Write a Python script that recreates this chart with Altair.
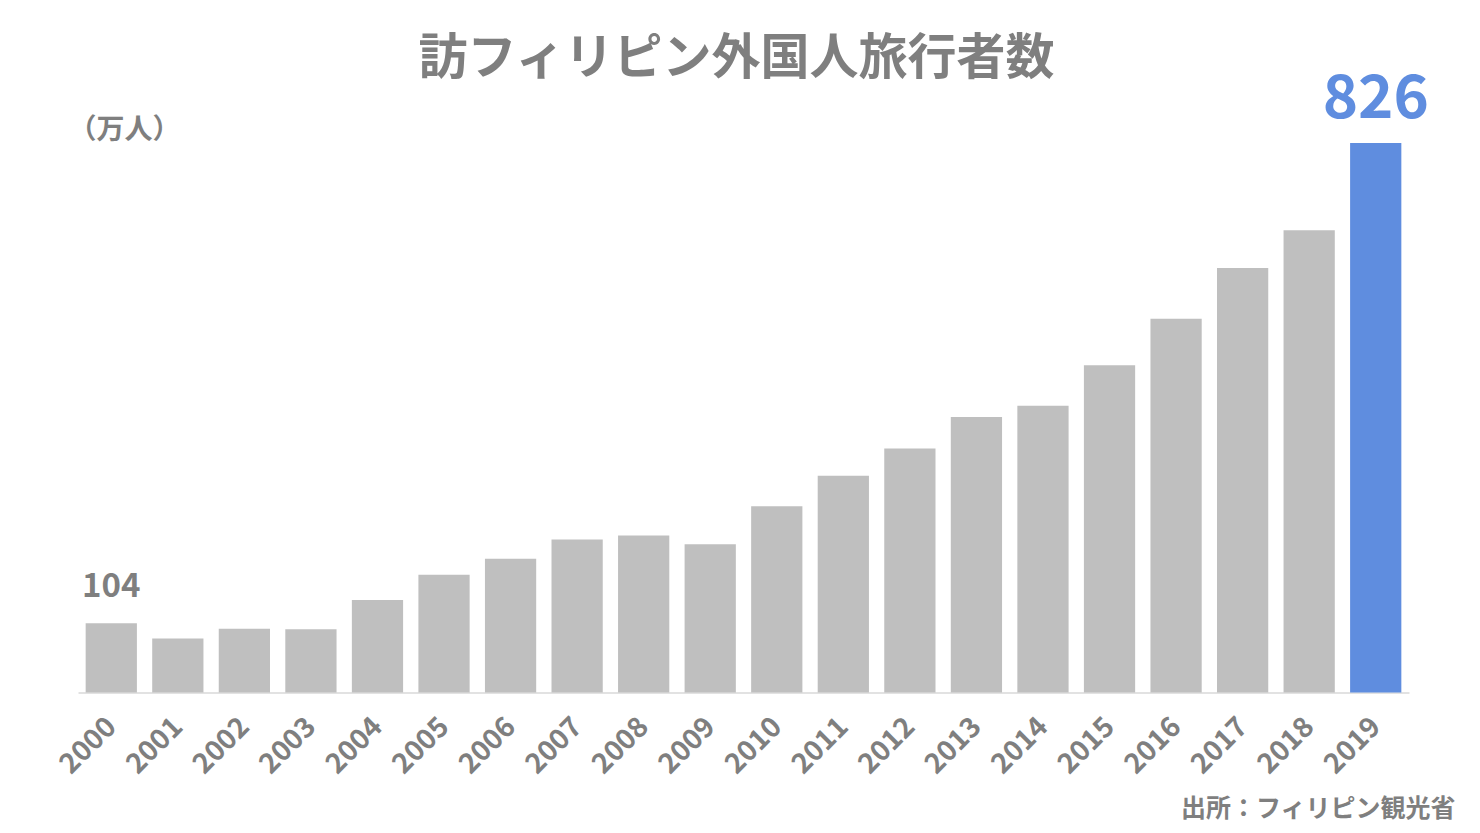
import altair as alt
import pandas as pd

years = [str(y) for y in range(2000, 2020)]
values = [104, 81, 96, 95, 139, 177, 201, 230, 236, 223,
          280, 326, 367, 414, 431, 492, 562, 638, 695, 826]
highlight = ["2019"]
label_years_gray = ["2000"]
label_years_blue = ["2019"]

df = pd.DataFrame({"year": years, "value": values})
df["hl"] = df["year"].isin(highlight)

FONT = "Noto Sans CJK JP"
GRAY = "#7f7f7f"
BLUE = "#5f8ddf"
BARGRAY = "#bfbfbf"

x = alt.X(
    "year:N",
    sort=years,
    scale=alt.Scale(paddingInner=0.23, paddingOuter=0.115),
    axis=alt.Axis(
        title="出所：フィリピン観光省",
        titleFont=FONT, titleFontSize=25, titleFontWeight="bold", titleColor=GRAY,
        titleAnchor="end", titleAlign="right", titleBaseline="middle",
        titleX=1377, titleY=116,
        labelAngle=-45, labelFont=FONT, labelFontSize=28, labelFontWeight="bold",
        labelColor=GRAY, labelPadding=20, labelOffset=-9,
        ticks=False, domainColor="#d9d9d9", domainWidth=1.5, grid=False,
    ),
)
y = alt.Y(
    "value:Q",
    scale=alt.Scale(domain=[0, 902], nice=False),
    axis=alt.Axis(
        title="（万人）", titleAngle=0, titleAlign="left", titleBaseline="middle",
        titleX=-10, titleY=38, titleFont=FONT, titleFontSize=28, titleFontWeight="bold",
        titleColor=GRAY, labels=False, ticks=False, domain=False, grid=False,
    ),
)

bars = alt.Chart(df).mark_bar().encode(
    x=x, y=y,
    color=alt.condition("datum.hl", alt.value(BLUE), alt.value(BARGRAY)),
)

lab_gray = alt.Chart(df).transform_filter(
    alt.FieldOneOfPredicate(field="year", oneOf=label_years_gray)
).mark_text(font=FONT, fontSize=33, fontWeight="bold", color=GRAY,
            baseline="alphabetic", dy=-26).encode(
    x=alt.X("year:N", sort=years), y="value:Q", text="value:Q")

lab_blue = alt.Chart(df).transform_filter(
    alt.FieldOneOfPredicate(field="year", oneOf=label_years_blue)
).mark_text(font=FONT, fontSize=60, fontWeight="bold", color=BLUE,
            baseline="alphabetic", dy=-25).encode(
    x=alt.X("year:N", sort=years), y="value:Q", text="value:Q")

chart = alt.layer(bars, lab_gray, lab_blue).properties(
    width=1331, height=600,
    title=alt.TitleParams(
        "訪フィリピン外国人旅行者数", font=FONT, fontSize=49, fontWeight="bold",
        color=GRAY, anchor="middle", baseline="middle", offset=34, dx=-7, dy=72,
    ),
    autosize=alt.AutoSizeParams(type="none"),
    padding={"left": 70, "top": 84.5, "right": 60, "bottom": 130},
).configure(background="white").configure_view(strokeWidth=0)

chart.save("out.html", embed_options={"renderer": "svg", "actions": False})
